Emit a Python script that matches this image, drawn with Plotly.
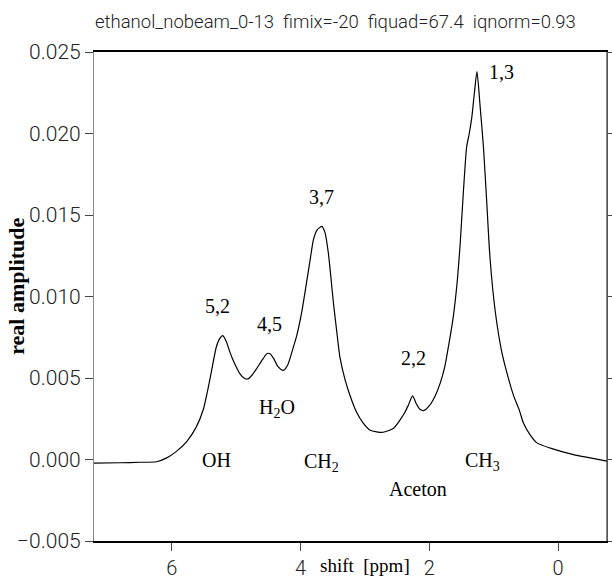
import plotly.graph_objects as go

# chemical shift [ppm] and real amplitude
shift_ppm = [7.21, 6.80, 6.50, 6.24, 6.08, 5.93, 5.77, 5.62, 5.51, 5.41, 5.31, 5.26,
             5.21, 5.15, 5.10, 5.05, 4.95, 4.88, 4.82, 4.75,
             4.68, 4.58, 4.52, 4.48, 4.42, 4.35, 4.27, 4.20, 4.12, 4.06, 3.98, 3.91,
             3.85, 3.80, 3.74, 3.67, 3.62, 3.57, 3.53, 3.49, 3.44, 3.39, 3.31, 3.23,
             3.13, 3.03, 2.92, 2.82, 2.72, 2.56, 2.46, 2.38, 2.33, 2.26, 2.20,
             2.15, 2.09, 2.00, 1.91, 1.83, 1.76, 1.70, 1.63, 1.57, 1.52, 1.47, 1.42,
             1.38, 1.34, 1.30, 1.26, 1.21, 1.16, 1.11, 1.06, 0.98, 0.88, 0.78, 0.69,
             0.60, 0.54, 0.45, 0.33, 0.12, -0.24, -0.50, -0.76]
amplitude = [-0.00022, -0.00020, -0.00017, -0.00014, 0.0001, 0.0005, 0.0011, 0.0020,
             0.0031, 0.0049, 0.0069, 0.0074,
             0.0076, 0.0072, 0.0066, 0.0061, 0.0053, 0.0050, 0.00494, 0.0052,
             0.0056, 0.0062, 0.0065, 0.0065, 0.0062, 0.0057, 0.00547, 0.0058, 0.0068,
             0.0076, 0.0091, 0.0108, 0.0123, 0.0135, 0.0141, 0.0143, 0.0139, 0.0127,
             0.0112, 0.0096, 0.0079, 0.0063, 0.0049, 0.0039, 0.0029, 0.00225, 0.0018,
             0.0017, 0.00167, 0.0019, 0.0024, 0.0029, 0.0033, 0.0039, 0.0034,
             0.0031, 0.0030, 0.0033, 0.0039, 0.0047, 0.0057, 0.0070, 0.0087, 0.0108,
             0.0133, 0.0165, 0.0192, 0.0200, 0.0210, 0.0225, 0.0238, 0.0216, 0.0192,
             0.0159, 0.0125, 0.0092, 0.0067, 0.0051, 0.0039, 0.0030, 0.00225, 0.0016,
             0.00102, 0.0007, 0.0003, 0.0001, -0.0001]

# peak labels
peak_labels = ["5,2", "4,5", "3,7", "2,2", "1,3"]
peak_x = [5.29, 4.48, 3.67, 2.25, 0.88]
peak_y = [0.0094, 0.0083, 0.0161, 0.00625, 0.0238]

# group labels
group_labels = ["OH", "H<sub>2</sub>O", "CH<sub>2</sub>", "Aceton", "CH<sub>3</sub>"]
group_x = [5.31, 4.37, 3.67, 2.17, 1.17]
group_y = [0.0000, 0.0031, -0.0002, -0.0018, -0.0001]

title_text = "ethanol_nobeam_0-13  fimix=-20  fiquad=67.4  iqnorm=0.93"
x_ticks = [6, 4, 2, 0]
y_ticks = [-0.005, 0.0, 0.005, 0.010, 0.015, 0.020, 0.025]

serif = "Liberation Serif, Times New Roman, serif"
sans = "Roboto, Liberation Sans, sans-serif"

fig = go.Figure()
fig.add_trace(go.Scatter(x=shift_ppm, y=amplitude, mode="lines",
                         line=dict(color="black", width=1.2, shape="spline", smoothing=0.6),
                         showlegend=False, hoverinfo="skip"))

for t, x, y in zip(peak_labels, peak_x, peak_y):
    fig.add_annotation(x=x, y=y, text=t, showarrow=False,
                       font=dict(family=serif, size=20, color="black"))
for t, x, y in zip(group_labels, group_x, group_y):
    fig.add_annotation(x=x, y=y, text=t, showarrow=False,
                       font=dict(family=serif, size=20, color="black"))

fig.add_annotation(xref="paper", yref="paper", x=0.528, y=-0.05, text="shift  [ppm]",
                   showarrow=False, yanchor="middle",
                   font=dict(family=serif, size=19, color="black"))
fig.add_annotation(xref="paper", yref="paper", x=-0.15, y=0.52, text="<b>real amplitude</b>",
                   showarrow=False, textangle=-90, xanchor="center", yanchor="middle",
                   font=dict(family=serif, size=22, color="black"))
fig.add_annotation(xref="paper", yref="paper", x=0.47, y=1.062, text=title_text,
                   showarrow=False, xanchor="center", yanchor="middle",
                   font=dict(family=sans, size=18.5, color="#222", weight=300))

# right frame line
fig.add_shape(type="line", xref="paper", yref="paper", x0=1, x1=1, y0=0, y1=1,
              line=dict(color="#333", width=1.2))

fig.update_layout(
    width=612, height=579,
    margin=dict(l=94, r=5, t=52, b=38, autoexpand=False),
    paper_bgcolor="white", plot_bgcolor="white",
    xaxis=dict(range=[7.21, -0.76], tickvals=x_ticks, ticktext=[str(v) for v in x_ticks],
               ticks="outside", ticklen=8, tickcolor="#444", tickwidth=1,
               ticklabelstandoff=0, automargin=False,
               showline=True, linecolor="black", linewidth=1.5, mirror=True,
               showgrid=False, zeroline=False,
               tickfont=dict(family=sans, size=20, color="#222", weight=300)),
    yaxis=dict(range=[-0.005, 0.025], tickvals=y_ticks, tickformat=".3f",
               ticks="outside", ticklen=8, tickcolor="#444", tickwidth=1,
               automargin=False,
               showline=True, linecolor="#888", linewidth=1.2, mirror="ticks",
               showgrid=False, zeroline=False,
               tickfont=dict(family=sans, size=21, color="#222", weight=300)),
)

fig.write_html("out.html")
